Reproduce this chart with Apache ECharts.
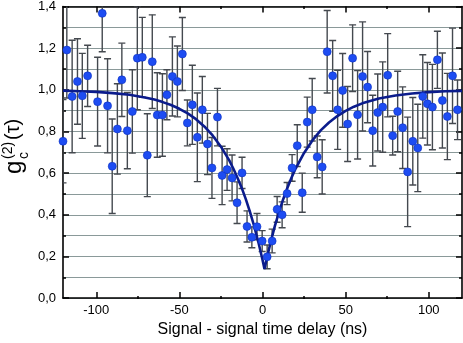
<!DOCTYPE html>
<html>
<head>
<meta charset="utf-8">
<script src="https://cdn.jsdelivr.net/npm/echarts@6/dist/echarts.min.js"></script>
<style>
html,body{margin:0;padding:0;background:#fff;}
#chart{width:463px;height:343px;}
</style>
</head>
<body>
<div id="chart"></div>
<script>
// Measured delays (ns)
const delays = [-120.0,-117.7,-114.5,-111.3,-108.4,-105.2,-99.2,-96.4,-93.2,-90.4,-87.3,-84.6,-81.3,-78.3,-75.3,-72.3,-69.3,-66.3,-63.3,-60.2,-57.5,-54.2,-51.2,-48.2,-45.2,-42.2,-39.2,-36.2,-33.1,-30.4,-27.1,-24.3,-21.3,-18.3,-15.3,-12.3,-9.3,-6.4,-3.3,-0.2,2.8,5.8,8.8,11.8,14.8,17.8,20.9,23.9,26.9,29.9,32.9,35.9,38.9,42.2,45.2,48.2,51.2,54.2,57.2,60.2,63.2,66.3,69.3,72.3,75.3,78.3,81.3,84.3,87.3,90.4,93.4,96.4,99.2,102.2,105.2,108.2,111.2,114.3,117.3];
// Measured g_c^(2)(tau)
const g2 = [0.753,1.191,0.968,1.040,0.971,1.067,0.943,1.367,0.923,0.633,0.812,1.048,0.804,0.896,1.152,1.156,0.686,1.135,0.879,0.879,0.976,1.064,1.040,1.172,0.841,0.928,0.772,0.904,0.740,0.625,0.869,0.589,0.617,0.577,0.458,0.601,0.344,0.292,0.343,0.274,0.198,0.274,0.426,0.400,0.502,0.625,0.732,0.506,0.845,0.904,0.678,0.630,1.183,1.067,0.904,0.997,0.836,1.152,0.880,1.064,1.013,0.804,0.891,0.917,1.070,0.780,0.896,0.818,0.606,0.753,0.721,0.968,0.933,0.917,1.144,0.949,0.872,1.067,0.904];
// Error bar half-widths
const g2Err = [0.20,0.23,0.27,0.205,0.204,0.147,0.213,0.184,0.226,0.227,0.217,0.176,0.183,0.20,0.248,0.192,0.199,0.225,0.203,0.198,0.12,0.19,0.17,0.175,0.11,0.19,0.213,0.16,0.147,0.146,0.138,0.14,0.10,0.11,0.10,0.075,0.075,0.05,0.063,0.05,0.057,0.057,0.062,0.062,0.053,0.064,0.10,0.094,0.12,0.15,0.10,0.13,0.198,0.17,0.19,0.177,0.18,0.16,0.212,0.262,0.171,0.17,0.185,0.217,0.20,0.093,0.193,0.196,0.263,0.21,0.21,0.20,0.198,0.205,0.137,0.228,0.207,0.229,0.143];
// Fit curve
const fitX = [-120,-110,-100,-90,-80,-70,-65,-60,-55,-50,-45,-40,-35,-30,-25,-20,-17.5,-15,-12.5,-10,-7.5,-5,-2.5,0,1.2,2.5,5,7.5,10,12.5,15,17.5,20,25,30,35,40,45,50,55,60,70,80,90,100,110,120];
const fitY = [0.996,0.993,0.990,0.984,0.976,0.962,0.953,0.941,0.927,0.909,0.887,0.859,0.824,0.781,0.727,0.661,0.621,0.577,0.529,0.474,0.413,0.345,0.269,0.184,0.140,0.188,0.272,0.348,0.415,0.476,0.530,0.579,0.623,0.697,0.757,0.805,0.843,0.874,0.899,0.919,0.935,0.958,0.973,0.982,0.989,0.993,0.995];
// Axis ticks
const xMajorTicks = [-100,-50,0,50,100];
const xMinorTicks = [-75,-25,25,75];
const xTitle = 'Signal - signal time delay (ns)';

const FONT = '"Liberation Sans", Arial, sans-serif';
const gridColor = '#8a9999';
const errData = delays.map((x,i)=>[x, g2[i]-g2Err[i], g2[i]+g2Err[i]]);
const ptData = delays.map((x,i)=>[x, g2[i]]);
const fitData = fitX.map((x,i)=>[x, fitY[i]]);

const gridPos = {left:63, right:1, top:6, bottom:44};
const chart = echarts.init(document.getElementById('chart'), null, {renderer:'canvas'});
const axLine = {show:true, onZero:false, lineStyle:{color:'#000', width:1.6}};
const option = {
  animation:false,
  backgroundColor:'#fff',
  grid:[Object.assign({containLabel:false}, gridPos), Object.assign({containLabel:false}, gridPos)],
  xAxis:[
    {type:'value', gridIndex:0, min:-120, max:120, position:'bottom',
     axisLine:axLine,
     axisTick:{show:true, inside:true, length:6, customValues:xMajorTicks, lineStyle:{color:'#000', width:1.5}},
     axisLabel:{show:true, customValues:xMajorTicks, margin:6, fontFamily:FONT, fontSize:13, color:'#000'},
     splitLine:{show:false},
     name:xTitle, nameLocation:'middle', nameGap:22,
     nameTextStyle:{fontFamily:FONT, fontSize:16, color:'#000'}},
    {type:'value', gridIndex:0, min:-120, max:120, position:'top',
     axisLine:axLine,
     axisTick:{show:true, inside:true, length:6, customValues:xMajorTicks, lineStyle:{color:'#000', width:1.5}},
     axisLabel:{show:false}, splitLine:{show:false}},
    {type:'value', gridIndex:1, min:-120, max:120, position:'bottom',
     axisLine:{show:false},
     axisTick:{show:true, inside:true, length:3, customValues:xMinorTicks, lineStyle:{color:'#000', width:1.5}},
     axisLabel:{show:false}, splitLine:{show:false}},
    {type:'value', gridIndex:1, min:-120, max:120, position:'top',
     axisLine:{show:false},
     axisTick:{show:true, inside:true, length:3, customValues:xMinorTicks, lineStyle:{color:'#000', width:1.5}},
     axisLabel:{show:false}, splitLine:{show:false}}
  ],
  yAxis:[
    {type:'value', gridIndex:0, min:0, max:1.4, interval:0.2, position:'left',
     axisLine:axLine,
     axisTick:{show:true, inside:true, length:6, lineStyle:{color:'#000', width:1.5}},
     minorTick:{show:true, splitNumber:2, length:3, lineStyle:{color:'#000', width:1.5}},
     axisLabel:{margin:7, fontFamily:FONT, fontSize:13, color:'#000', formatter:v=>v.toFixed(1).replace('.', ',')},
     splitLine:{show:true, lineStyle:{color:gridColor, width:1}},
     minorSplitLine:{show:true, lineStyle:{color:gridColor, width:1}}},
    {type:'value', gridIndex:0, min:0, max:1.4, interval:0.2, position:'right',
     axisLine:axLine,
     axisTick:{show:true, inside:true, length:6, lineStyle:{color:'#000', width:1.5}},
     minorTick:{show:true, splitNumber:2, length:3, lineStyle:{color:'#000', width:1.5}},
     axisLabel:{show:false}, splitLine:{show:false}},
    {type:'value', gridIndex:1, min:0, max:1.4, show:false}
  ],
  graphic:[{
    type:'group', x:14, y:174, rotation:Math.PI/2, z:100,
    children:[
      {type:'text', x:0, y:0, style:{text:'g', fontFamily:FONT, fontSize:24, fill:'#000', verticalAlign:'middle'}},
      {type:'text', x:15, y:-6, style:{text:'(2)', fontFamily:FONT, fontSize:14, fill:'#000', verticalAlign:'middle'}},
      {type:'text', x:15, y:10, style:{text:'c', fontFamily:FONT, fontSize:14, fill:'#000', verticalAlign:'middle'}},
      {type:'text', x:34, y:-1, style:{text:'(τ)', fontFamily:FONT, fontSize:20, fill:'#000', verticalAlign:'middle'}}
    ]
  }],
  series:[
    {type:'custom', xAxisIndex:0, yAxisIndex:0, clip:true, z:2, data:errData,
     encode:{x:0, y:[1,2]},
     renderItem:(params, api)=>{
       const x = api.value(0), lo = api.value(1), hi = api.value(2);
       const a = api.coord([x, hi]), b = api.coord([x, lo]);
       const w = 3.5;
       const st = {stroke:'#44494f', lineWidth:1.4};
       return {type:'group', children:[
         {type:'line', shape:{x1:a[0], y1:a[1], x2:b[0], y2:b[1]}, style:st},
         {type:'line', shape:{x1:a[0]-w, y1:a[1], x2:a[0]+w, y2:a[1]}, style:st},
         {type:'line', shape:{x1:b[0]-w, y1:b[1], x2:b[0]+w, y2:b[1]}, style:st}
       ]};
     }},
    {type:'line', xAxisIndex:0, yAxisIndex:0, data:fitData, showSymbol:false, symbol:'none', z:3,
     lineStyle:{color:'#0b1c8c', width:2.6}, clip:true},
    {type:'scatter', xAxisIndex:0, yAxisIndex:0, data:ptData, symbol:'circle', symbolSize:8, z:4,
     itemStyle:{color:'#1d4cf2', borderColor:'#0d31c0', borderWidth:0.6, opacity:1}}
  ]
};
chart.setOption(option);
</script>
</body>
</html>
